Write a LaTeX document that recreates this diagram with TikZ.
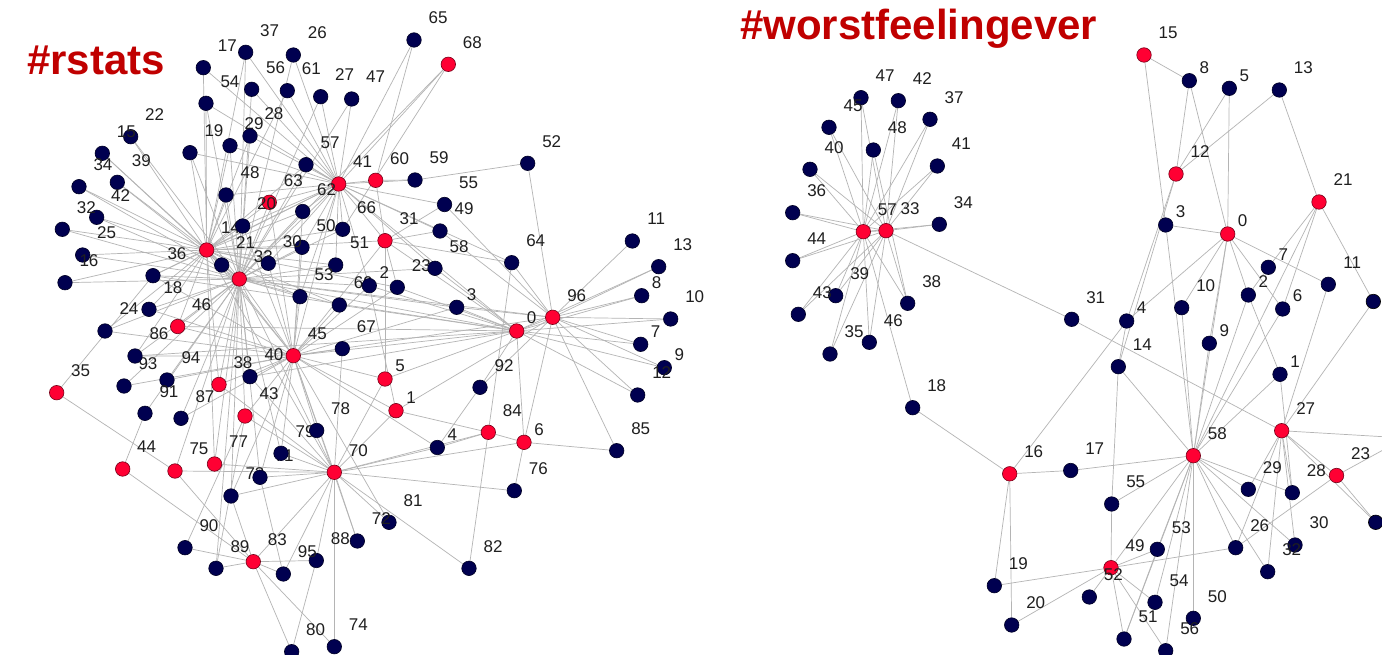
\documentclass[tikz,border=0pt]{standalone}
\usepackage{fontspec}
\setmainfont{Liberation Sans}
\usetikzlibrary{backgrounds}
\definecolor{nred}{HTML}{FF0033}
\definecolor{nnavy}{HTML}{000050}
\definecolor{edgegray}{HTML}{B4B4B4}
\definecolor{titred}{HTML}{C00000}
\begin{document}
\begin{tikzpicture}[x=1pt,y=-1pt,
  dot/.style={circle,minimum size=14.5pt,inner sep=0pt,line width=0.6pt},
  lab/.style={font=\fontsize{17}{17}\selectfont,text=black!88,inner sep=0pt},
  edge/.style={draw=edgegray,line width=0.7pt},
  titletext/.style={font=\fontsize{42}{42}\selectfont\bfseries,text=titred,anchor=base west,inner sep=0pt}]
\useasboundingbox (0,0) rectangle (1382,655);

% ---------- titles
\node[titletext] (t1) at (27,75) {\#rstats};
\node[titletext] (t2) at (740,40) {\#worstfeelingever};

% ---------- left network nodes
\foreach \n/\x/\y/\c in {22/130.7/136.7/nnavy, 15/102.3/153.3/nnavy, 34/79/186.7/nnavy, 39/117.3/182.3/nnavy, 42/96.7/217.3/nnavy, 32/62.3/229.3/nnavy, 25/82.7/255/nnavy, 16/65/282.7/nnavy, 36/153/275.7/nnavy, 19/190/152.7/nnavy, 14/206.7/250/nred, 54/206/103.3/nnavy, 29/230/145.7/nnavy, 48/226/195/nnavy, 21/221.7/265/nnavy, 33/239.3/279/nred, 17/203.3/67.7/nnavy, 37/245.7/52.3/nnavy, 26/293.3/55/nnavy, 56/251.7/89.3/nnavy, 61/287.3/90.7/nnavy, 27/320.7/96.7/nnavy, 47/351.7/99/nnavy, 28/250/136/nnavy, 57/306/164.7/nnavy, 41/338.7/184/nred, 60/375.7/180.3/nred, 63/269.3/202.3/nred, 62/302.7/211.5/nnavy, 20/242.7/226/nnavy, 66/342.7/229.3/nnavy, 31/385/240.7/nred, 50/302/247.3/nnavy, 30/268.3/263.3/nnavy, 51/335.7/265/nnavy, 53/300/296.7/nnavy, 69/339.3/305/nnavy, 2/369.3/285.7/nnavy, 23/397.3/287.3/nnavy, 58/435/268.3/nnavy, 55/444.5/204.5/nnavy, 49/440/231/nnavy, 59/415/180/nnavy, 65/414/40/nnavy, 68/448.3/64.3/nred, 52/527.7/163.3/nnavy, 64/511.7/262.7/nnavy, 3/456.7/307.3/nnavy, 96/552.7/317.3/nred, 0/516.7/331/nred, 11/632.3/241/nnavy, 13/658.7/266.7/nnavy, 8/641.7/295.7/nnavy, 10/670.7/319/nnavy, 7/640.7/344.3/nnavy, 9/664.3/367.7/nnavy, 12/637.7/395/nnavy, 85/616.7/450.7/nnavy, 92/480/387.3/nnavy, 84/488.3/432.3/nred, 6/524/442.3/nred, 4/437.3/447.5/nnavy, 76/514.3/490.7/nnavy, 82/469/568.3/nnavy, 81/389/522.3/nnavy, 72/357.3/541/nnavy, 88/316.3/560.5/nnavy, 74/334.3/646.7/nnavy, 80/291.7/651.7/nnavy, 95/283.3/574/nnavy, 83/253.3/561.7/nred, 89/216/568.3/nnavy, 90/185/547.7/nnavy, 73/231/496/nnavy, 71/260/477.3/nnavy, 79/281/453.3/nnavy, 78/316.7/430.5/nnavy, 70/334.3/472.3/nred, 67/342.3/348.7/nnavy, 45/293.3/355.7/nred, 40/250/376.7/nnavy, 1/396/410.7/nred, 5/385/379/nred, 38/219/384.5/nred, 43/245/416/nred, 87/181/418.3/nnavy, 94/167/380/nnavy, 93/124/386/nnavy, 91/145/413.3/nnavy, 86/135/356/nnavy, 24/105/331/nnavy, 18/149/309.3/nnavy, 46/177.7/326.5/nred, 35/56.7/392.7/nred, 44/122.7/469/nred, 75/175/471/nred, 77/214.5/464/nred}
{
  \ifnum\n<10 \def\dx{15}\def\dy{13}\else\def\dx{24}\def\dy{22}\fi
  \node[dot,fill=\c,draw=\c!45!black,label={[lab,xshift=\dx pt,yshift=\dy pt]center:\n}] (L\n) at (\x,\y) {};
}

% ---------- right network nodes
\foreach \n/\x/\y/\c in {47/861/97.7/nnavy, 42/898.3/100.7/nnavy, 37/930/119.3/nnavy, 45/829/127.3/nnavy, 48/873.3/150/nnavy, 41/937.3/166/nnavy, 40/810/169.3/nnavy, 36/792.7/212.7/nnavy, 34/939.3/224.3/nnavy, 57/863.3/231.7/nred, 33/886/230.7/nred, 44/792.7/260.7/nnavy, 39/835.7/295.7/nnavy, 38/907.7/303.3/nnavy, 43/798.3/314.3/nnavy, 46/869.3/342.3/nnavy, 35/830/354/nnavy, 18/912.7/407.7/nnavy, 31/1071.7/319.3/nnavy, 15/1144/55/nred, 8/1189.3/80.7/nnavy, 5/1229.3/88.3/nnavy, 13/1279.3/90/nnavy, 12/1176/174/nred, 21/1319/202/nred, 3/1165.7/225/nnavy, 0/1227.7/234/nred, 7/1268.3/267.3/nnavy, 11/1328.3/284.3/nnavy, 10/1181.7/307.7/nnavy, 2/1248.3/295/nnavy, 6/1282.7/309/nnavy, 4/1126.7/321/nnavy, 9/1209.3/343.3/nnavy, 14/1118.3/366.7/nnavy, 1/1280/374.3/nnavy, 27/1281.7/430.7/nred, 58/1193.3/455.7/nred, 16/1009.7/473.8/nred, 17/1070.7/470.5/nnavy, 23/1336.5/475.5/nred, 29/1248.3/489.3/nnavy, 28/1292.3/492.7/nnavy, 55/1111.7/504/nnavy, 26/1235.7/547.7/nnavy, 30/1295/545/nnavy, 53/1157.3/549.3/nnavy, 49/1111/567.7/nred, 32/1267.7/571.7/nnavy, 19/994.3/585.7/nnavy, 52/1089.3/597/nnavy, 54/1155/602.3/nnavy, 50/1193.3/618.3/nnavy, 20/1011.7/625/nnavy, 51/1124/639/nnavy, 56/1165.7/650.7/nnavy}
{
  \ifnum\n<10 \def\dx{15}\def\dy{13}\else\def\dx{24}\def\dy{22}\fi
  \node[dot,fill=\c,draw=\c!45!black,label={[lab,xshift=\dx pt,yshift=\dy pt]center:\n}] (R\n) at (\x,\y) {};
}
\node[dot,fill=nnavy,draw=black] (RX1) at (1373.3,301.5) {};
\node[dot,fill=nnavy,draw=black] (RX2) at (1375.7,522.3) {};
\coordinate (Roff) at (1405,438);

% ---------- edges
\begin{pgfonlayer}{background}
\fill[white] (0,0) rectangle (1382,655);
% left network
\foreach \b in {22,15,34,39,42,32,25,16,36,19,54,17,29,48,21,37,61,28,57,63,62,20,30,50,31,23,69,53,18,24,86,46,38,41,45,70,77,33,66,51}
  \draw[edge] (L14) -- (L\b);
\foreach \b in {15,34,39,42,32,25,16,36,18,24,86,46,93,94,91,87,38,43,40,75,77,89,73,71,79,70,45,53,69,2,58,3,0,96,30,50,51,66,62,41,57,63,20,28,56,37,26,27,47,54,19,29,48,68,21,22}
  \draw[edge] (L33) -- (L\b);
\foreach \b in {65,68,47,27,61,26,56,37,28,57,63,60,59,55,49,58,31,66,50,62,51,53,45,20,48,29,19,54,17,30,36,64,2,0}
  \draw[edge] (L41) -- (L\b);
\foreach \b in {36,18,46,86,94,93,87,38,43,40,79,71,73,78,70,67,5,1,0,96,69,53,30,50,62,63,20,31,2,23,3,81,72,4,21,24}
  \draw[edge] (L45) -- (L\b);
\foreach \b in {38,43,75,77,73,71,79,95,88,72,74,82,76,4,84,6,1,5,83,67,81,40}
  \draw[edge] (L70) -- (L\b);
\foreach \b in {96,58,3,23,69,46,86,5,6,7,9,12,13,8,10,31,2,92,36,40}
  \draw[edge] (L0) -- (L\b);
\foreach \b in {11,13,8,10,7,9,12,85,6,52,49,55,3,92,64,1}
  \draw[edge] (L96) -- (L\b);
\foreach \a/\b in {60/59, 59/52, 65/60, 68/66, 31/5, 31/49, 31/55, 31/23, 31/64, 2/1, 84/1, 84/4, 84/6, 84/64, 84/82, 6/76, 6/85, 4/92, 83/44, 83/75, 83/90, 83/89, 83/95, 83/88, 83/73, 83/80, 83/74, 95/71, 80/88, 90/43, 35/75, 35/36, 44/91, 89/43, 60/31}
  \draw[edge] (L\a) -- (L\b);
% right network
\foreach \b in {47,42,37,45,48,41,40,36,34,44,39,38,43,46,35,18,33}
  \draw[edge] (R57) -- (R\b);
\foreach \b in {47,42,37,45,41,40,36,34,44,39,38,43,46,35,31}
  \draw[edge] (R33) -- (R\b);
\foreach \b in {49,53,54,50,51,56,29,28,30,32,26}
  \draw[edge] (R58) -- (R\b);
\foreach \b in {26,32,30,29,28,23,X2}
  \draw[edge] (R27) -- (R\b);
\foreach \b in {19,20,52,51,53,56,54}
  \draw[edge] (R49) -- (R\b);
\foreach \a/\b in {48/38, 31/27, 15/8, 15/3, 8/12, 8/0, 5/12, 5/0, 13/12, 13/21, 12/4, 12/14, 3/0, 3/58, 0/11, 0/2, 0/6, 0/10, 0/4, 0/58, 0/9, 21/7, 21/58, 21/X1, 11/27, X1/27, 7/2, 2/58, 2/1, 6/58, 6/21, 10/58, 9/58, 1/58, 1/28, 14/58, 4/16, 4/14, 14/55, 55/49, 55/58, 18/16, 16/17, 16/19, 16/20, 17/58, 23/X2, 23/26, 26/49, 51/53}
  \draw[edge] (R\a) -- (R\b);
\draw[edge] (R23) -- (Roff);
\draw[edge] (R27) -- (Roff);
\end{pgfonlayer}
\end{tikzpicture}
\end{document}
